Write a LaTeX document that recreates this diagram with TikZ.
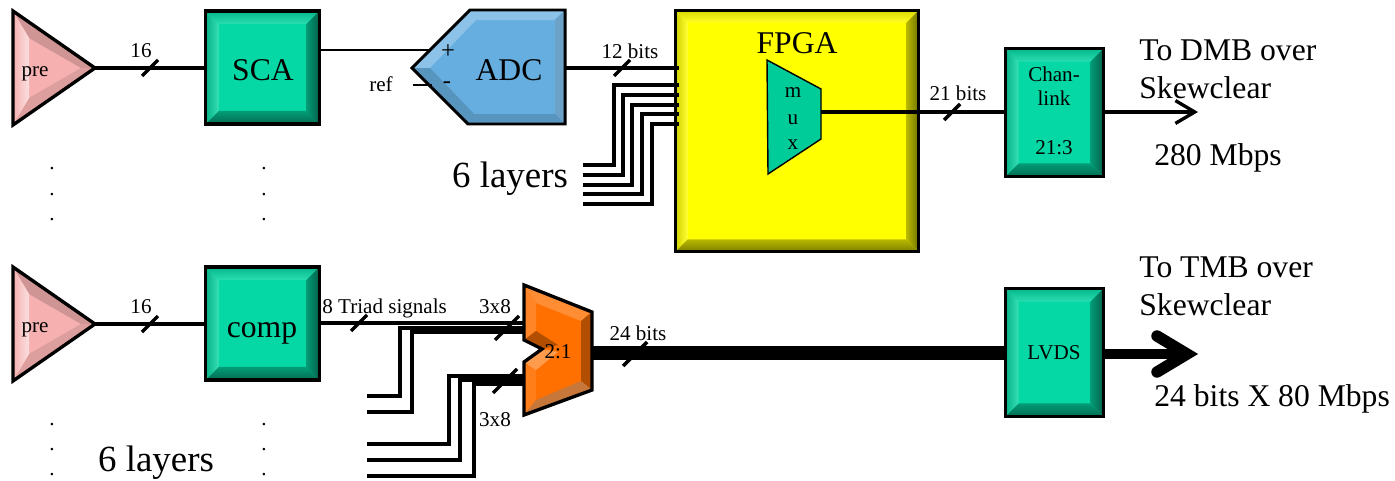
\documentclass[tikz,border=0pt]{standalone}
\usepackage{fontspec}
\setmainfont{Liberation Serif}
\usetikzlibrary{calc,arrows.meta}
\definecolor{boxgreen}{HTML}{05D8A4}
\definecolor{muxgreen}{HTML}{00CC99}
\definecolor{adcblue}{HTML}{66AEE0}
\definecolor{prepink}{HTML}{F6B0B0}
\definecolor{muxorange}{HTML}{FF7000}
\definecolor{fpgayellow}{HTML}{FFFF00}
\tikzset{
  unitbox/.style={draw=black,line width=1.9pt,inner sep=0pt,outer sep=0pt},
  greenbox/.style={unitbox,fill=boxgreen},
  sig/.style={line width=1.9pt},
  thin sig/.style={line width=1pt},
  bus/.style={line width=1.8pt,line join=miter},
  tick/.style={line width=2pt},
  lbl/.style={font=\fontsize{12}{14}\selectfont,inner sep=0pt},
  sign/.style={font=\fontsize{14}{16}\selectfont,inner sep=0pt},
  big/.style={font=\fontsize{18}{21}\selectfont,inner sep=0pt},
  huge lbl/.style={font=\fontsize{21}{25}\selectfont,inner sep=0pt}
}
% shaded facets on the four sides of a named box
\newcommand{\bevel}[3]{
  \shade[top color=#3!85!black,bottom color=#3!85!white] (#1.north west) -- (#1.north east) -- ($(#1.north east)+(-#2,#2)$) -- ($(#1.north west)+(#2,#2)$) -- cycle;
  \shade[left color=#3!82!black,right color=#3!80!white] (#1.north west) -- (#1.south west) -- ($(#1.south west)+(#2,-#2)$) -- ($(#1.north west)+(#2,#2)$) -- cycle;
  \shade[top color=#3!72!black,bottom color=#3!50!black] (#1.south west) -- (#1.south east) -- ($(#1.south east)+(-#2,-#2)$) -- ($(#1.south west)+(#2,-#2)$) -- cycle;
  \shade[left color=#3!72!black,right color=#3!45!black] (#1.north east) -- (#1.south east) -- ($(#1.south east)+(-#2,-#2)$) -- ($(#1.north east)+(-#2,#2)$) -- cycle;
  \draw[line width=1.9pt] (#1.north west) rectangle (#1.south east);
}
\newcommand{\preamp}[2]{
  \fill[prepink] (#1,#2-57) -- (#1+82,#2) -- (#1,#2+57) -- cycle;
  \fill[black!16!prepink] (#1,#2-57) -- (#1+82,#2) -- (#1+68,#2) -- (#1+16,#2-30) -- cycle;
  \fill[black!10!prepink] (#1,#2+57) -- (#1+82,#2) -- (#1+68,#2) -- (#1+16,#2+30) -- cycle;
  \shade[left color=prepink,right color=white!60!prepink] (#1,#2-57) -- (#1,#2+57) -- (#1+16,#2+30) -- (#1+16,#2-30) -- cycle;
  \draw[line width=1.9pt,line join=miter] (#1,#2-57) -- (#1+82,#2) -- (#1,#2+57) -- cycle;
}
\begin{document}
\begin{tikzpicture}[x=0.02cm,y=-0.02cm]
  \useasboundingbox (0,0) rectangle (1395,480);

  % top row
  \preamp{13}{68}
  \node[lbl] (pre1) at (35,74) {pre};
  \coordinate (pre1out) at (95,68);
  \node[greenbox,minimum width=2.27cm,minimum height=2.26cm] (sca) at (262.5,67.5) {};
  \bevel{sca}{13}{boxgreen}
  \node[big] (scatext) at (263,70) {SCA};
  \draw[sig] (pre1out) -- (pre1out -| sca.west);
  \draw[tick] (150,68) ++(-8,8) -- ++(16,-16);
  \node[lbl] (n1) at (141,51) {16};

  \fill[adcblue] (470,10) -- (565,10) -- (565,124) -- (468,124) -- (412,68) -- cycle;
  \fill[adcblue!75!white] (470,10) -- (565,10) -- (554,20) -- (476,20) -- (430,68) -- (412,68) -- cycle;
  \fill[adcblue!75!gray] (565,10) -- (565,124) -- (555,114) -- (555,20) -- cycle;
  \fill[adcblue!85!black] (412,68) -- (468,124) -- (565,124) -- (555,114) -- (474,114) -- (430,68) -- cycle;
  \draw[line width=1.7pt] (470,10) -- (565,10) -- (565,124) -- (468,124) -- (412,68) -- cycle;
  \node[big] (adc) at (509,70) {ADC};
  \coordinate (adcplus) at (430,50);
  \coordinate (adcminus) at (432,85);
  \coordinate (refstub) at (413,85);
  \coordinate (adcout) at (565,68);
  \draw[thin sig] (sca.east |- adcplus) -- (adcplus);
  \draw[thin sig] (refstub) -- (adcminus);
  \node[lbl] (ref) at (381,84) {ref};
  \node[sign] (plus) at (448,52) {+};
  \node[sign] (minus) at (447,85) {-};

  \node[unitbox,fill=fpgayellow,minimum width=4.86cm,minimum height=4.82cm] (fpga) at (797,131) {};
  \bevel{fpga}{12}{fpgayellow}
  \node[big] (fpgatext) at (797,43) {FPGA};

  \coordinate (fpgain) at (679,68);
  \draw[sig] (adcout) -- (fpgain);
  \draw[tick] (622,68) ++(-8,8) -- ++(16,-16);
  \node[lbl] (n2) at (630,51) {12 bits};

  % five more layers into the FPGA
  \foreach \xv/\yin/\yout in {614/85/165,623/95/175,632/105/185,642/114/194,652/124/204}{
    \coordinate (in\xv) at (679,\yin);
    \coordinate (out\xv) at (583,\yout);
    \draw[bus] (in\xv) -- (\xv,\yin) -- (\xv,\yout) -- (out\xv);
  }
  \node[huge lbl] (layers1) at (510,179) {6 layers};

  \draw[line width=0.8pt,fill=muxgreen] (767,60) -- (821,89) -- (821,139) -- (768,174) -- cycle;
  \node[lbl] (m) at (793,93) {m};
  \node[lbl] (u) at (793,120) {u};
  \node[lbl] (x) at (793,145) {x};
  \coordinate (muxout) at (821,112);

  \node[greenbox,minimum width=1.96cm,minimum height=2.56cm] (chan) at (1054.5,112.5) {};
  \bevel{chan}{13}{boxgreen}
  \node[lbl] (chan1) at (1054,74) {Chan-};
  \node[lbl] (chan2) at (1054,98) {link};
  \node[lbl] (chan3) at (1054,148) {21:3};
  \draw[sig] (muxout) -- (chan.west |- muxout);
  \draw[tick] (952,112) ++(-8,8) -- ++(16,-16);
  \node[lbl] (n3) at (958,93) {21 bits};

  \coordinate (dmb) at (1198,112);
  \draw[sig,-{Straight Barb[length=11pt,width=13pt]}] (chan.east |- dmb) -- (dmb);
  \node[big,anchor=west] (dmb1) at (1139,50) {To DMB over};
  \node[big,anchor=west] (dmb2) at (1139,88) {Skewclear};
  \node[big,anchor=west] (rate1) at (1154,158) {280 Mbps};

  % dots between the rows
  \foreach \xd in {52,264}{
    \foreach \yd in {169,195,220,425,450,475}{
      \node[lbl] (dot\xd\yd) at (\xd,\yd) {.};
    }
  }

  % bottom row
  \preamp{13}{324}
  \node[lbl] (pre2) at (35,330) {pre};
  \coordinate (pre2out) at (95,324);
  \node[greenbox,minimum width=2.27cm,minimum height=2.26cm] (comp) at (262.5,323.5) {};
  \bevel{comp}{13}{boxgreen}
  \node[big] (comptext) at (262,333) {comp};
  \draw[sig] (pre2out) -- (pre2out -| comp.west);
  \draw[tick] (150,324) ++(-8,8) -- ++(16,-16);
  \node[lbl] (n4) at (141,307) {16};

  \fill[muxorange] (524,285) -- (592,312) -- (592,390) -- (524,415) -- (524,362) -- (542,349) -- (524,340) -- cycle;
  \fill[muxorange!80!white] (524,285) -- (592,312) -- (581,321) -- (536,303) -- cycle;
  \fill[muxorange!85!white] (524,285) -- (536,303) -- (536,331) -- (524,340) -- cycle;
  \fill[muxorange!90!white] (524,362) -- (536,370) -- (536,400) -- (524,415) -- cycle;
  \fill[muxorange!70!black] (592,312) -- (592,390) -- (581,381) -- (581,321) -- cycle;
  \fill[muxorange!55!gray] (524,415) -- (592,390) -- (581,381) -- (536,400) -- cycle;
  \fill[muxorange!70!black] (524,340) -- (542,349) -- (558,345) -- (536,331) -- cycle;
  \fill[muxorange!70!white] (524,362) -- (542,349) -- (558,352) -- (536,370) -- cycle;
  \draw[line width=1.9pt] (524,285) -- (592,312) -- (592,390) -- (524,415) -- (524,362) -- (542,349) -- (524,340) -- cycle;
  \node[lbl] (mux21) at (558,352) {2:1};
  \coordinate (muxtop) at (524,323);
  \coordinate (muxthick) at (592,353);

  \draw[sig] (comp.east |- muxtop) -- (muxtop);
  \draw[tick] (359,323) ++(-8,8) -- ++(16,-16);
  \node[lbl,anchor=west] (triad) at (322,308) {8 Triad signals};
  \draw[tick] (507,328) ++(-12,12) -- ++(24,-24);
  \node[lbl] (n5) at (495,307) {3x8};

  \foreach \xv/\yin/\yout in {400/328/396,412/332/412,449/376/444,460/380/460,474/384/476}{
    \coordinate (bin\xv) at (524,\yin);
    \coordinate (bout\xv) at (367,\yout);
    \draw[bus] (bin\xv) -- (\xv,\yin) -- (\xv,\yout) -- (bout\xv);
  }
  \draw[tick] (505,381) ++(-12,12) -- ++(24,-24);
  \node[lbl] (n6) at (495,420) {3x8};
  \node[huge lbl] (layers2) at (156,463) {6 layers};

  \node[greenbox,minimum width=1.96cm,minimum height=2.56cm] (lvds) at (1054.5,352.5) {};
  \bevel{lvds}{13}{boxgreen}
  \node[lbl] (lvdstext) at (1054,353) {LVDS};
  \draw[line width=8pt] (muxthick) -- (lvds.west |- muxthick);
  \draw[tick] (635,354) ++(-12,12) -- ++(24,-24);
  \node[lbl] (n7) at (638,333) {24 bits};

  \coordinate (tmb) at (1187,354);
  \coordinate (tmbup) at (1157,336);
  \coordinate (tmbdn) at (1157,372);
  \draw[line width=5.7pt] (lvds.east |- tmb) -- (tmb);
  \draw[line width=6.5pt,line cap=round,line join=miter] (tmbup) -- (tmb) -- (tmbdn);
  \node[big,anchor=west] (tmb1) at (1139,267) {To TMB over};
  \node[big,anchor=west] (tmb2) at (1139,305) {Skewclear};
  \node[big,anchor=west] (rate2) at (1154,399) {24 bits X 80 Mbps};
\end{tikzpicture}
\end{document}
